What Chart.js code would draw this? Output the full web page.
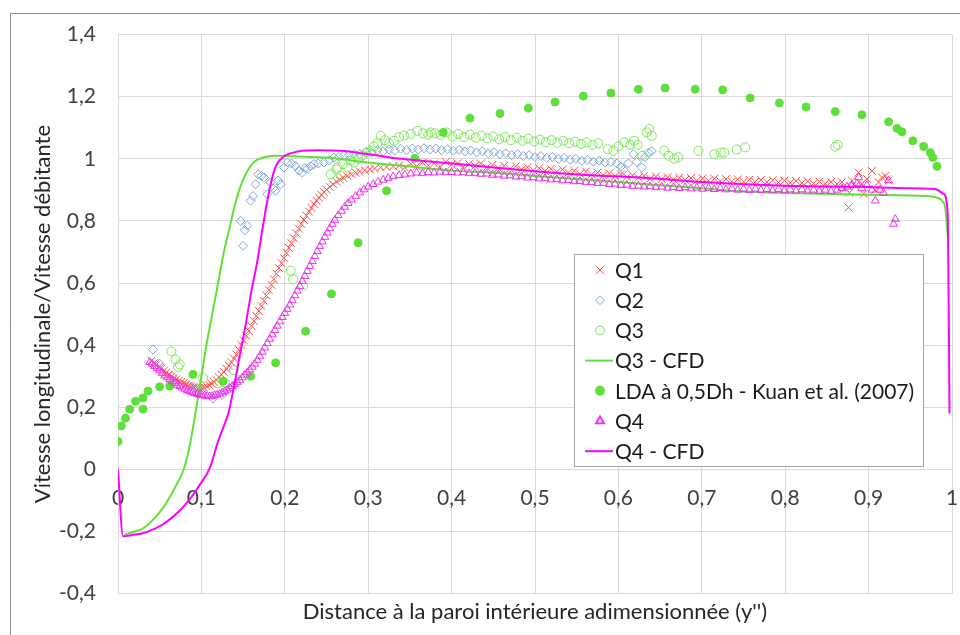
<!DOCTYPE html>
<html>
<head>
<meta charset="utf-8">
<script src="https://cdn.jsdelivr.net/npm/chart.js@4.4.0/dist/chart.umd.min.js"></script>
<style>
  html, body { margin: 0; padding: 0; background: #fff; }
  #wrap { width: 960px; height: 635px; }
</style>
</head>
<body>
<div id="wrap"><canvas id="chart" width="960" height="635"></canvas></div>
<script>
// tick labels
const xTicks = [0, 0.1, 0.2, 0.3, 0.4, 0.5, 0.6, 0.7, 0.8, 0.9, 1];
const yTicks = [-0.4, -0.2, 0, 0.2, 0.4, 0.6, 0.8, 1, 1.2, 1.4];

// series, [x, y] pairs
const q1 = [
  [0.040,0.350],[0.043,0.342],[0.046,0.338],[0.049,0.330],[0.052,0.325],[0.055,0.318],[0.058,0.312],[0.061,0.306],[0.064,0.300],[0.067,0.295],
  [0.070,0.290],[0.073,0.285],[0.076,0.282],[0.079,0.278],[0.082,0.274],[0.085,0.270],[0.088,0.268],[0.091,0.266],[0.094,0.264],[0.097,0.262],
  [0.100,0.262],[0.103,0.264],[0.106,0.268],[0.109,0.272],[0.112,0.276],[0.115,0.282],[0.118,0.288],[0.121,0.296],[0.124,0.305],[0.127,0.314],
  [0.130,0.324],[0.133,0.334],[0.136,0.345],[0.139,0.357],[0.142,0.370],[0.145,0.385],[0.148,0.400],[0.151,0.415],[0.154,0.430],[0.157,0.446],
  [0.160,0.462],[0.163,0.478],[0.166,0.494],[0.169,0.510],[0.172,0.526],[0.175,0.543],[0.178,0.560],[0.181,0.577],[0.184,0.594],[0.187,0.612],
  [0.190,0.630],[0.193,0.648],[0.196,0.664],[0.199,0.680],[0.202,0.697],[0.205,0.713],[0.208,0.728],[0.211,0.744],[0.214,0.760],[0.217,0.775],
  [0.220,0.790],[0.223,0.803],[0.226,0.817],[0.229,0.830],[0.232,0.842],[0.235,0.854],[0.238,0.865],[0.241,0.875],[0.244,0.884],[0.247,0.893],
  [0.250,0.901],[0.254,0.910],[0.258,0.918],[0.262,0.926],[0.266,0.933],[0.270,0.939],[0.275,0.945],[0.280,0.950],[0.285,0.955],[0.290,0.959],
  [0.296,0.963],[0.302,0.966],[0.308,0.969],[0.315,0.972],[0.322,0.974],[0.330,0.976],
  [0.337,0.978],[0.344,0.972],[0.351,0.984],[0.358,0.976],[0.365,0.988],[0.372,0.979],[0.379,0.985],[0.386,0.975],[0.393,0.990],[0.400,0.981],
  [0.407,0.986],[0.414,0.974],[0.421,0.983],[0.428,0.977],[0.435,0.985],[0.442,0.972],[0.449,0.980],[0.456,0.970],[0.463,0.978],[0.470,0.968],
  [0.477,0.976],[0.484,0.966],[0.491,0.973],[0.498,0.963],[0.505,0.970],[0.512,0.961],[0.519,0.968],[0.526,0.958],[0.533,0.965],[0.540,0.955],
  [0.547,0.962],[0.554,0.952],[0.561,0.959],[0.568,0.950],[0.575,0.956],[0.582,0.947],[0.589,0.953],[0.596,0.944],[0.603,0.950],[0.610,0.941],
  [0.617,0.947],[0.624,0.939],[0.631,0.945],[0.638,0.936],[0.645,0.943],[0.652,0.935],[0.659,0.941],[0.666,0.933],[0.673,0.939],[0.680,0.932],
  [0.687,0.938],[0.694,0.930],[0.701,0.937],[0.708,0.929],[0.715,0.936],[0.722,0.928],[0.729,0.935],[0.736,0.927],[0.743,0.934],[0.750,0.926],
  [0.757,0.933],[0.764,0.926],[0.771,0.932],[0.778,0.925],[0.785,0.931],[0.792,0.924],[0.799,0.930],[0.806,0.923],[0.813,0.929],[0.820,0.922],
  [0.827,0.928],[0.834,0.921],[0.841,0.927],[0.848,0.920],[0.855,0.926],[0.862,0.919],
  [0.868,0.925],[0.872,0.905],[0.876,0.843],[0.877,0.891],[0.880,0.930],[0.884,0.912],[0.888,0.956],[0.892,0.920],[0.894,0.887],[0.898,0.935],
  [0.904,0.961],[0.908,0.900],[0.912,0.925],[0.916,0.940],[0.920,0.945],[0.924,0.930]
];

const q2 = [
  [0.042,0.386],[0.050,0.340],[0.065,0.300],[0.085,0.270],[0.100,0.255],[0.114,0.228],[0.125,0.240],
  [0.147,0.800],[0.150,0.720],[0.152,0.770],[0.155,0.785],[0.159,0.865],[0.162,0.880],[0.165,0.918],[0.168,0.950],[0.172,0.945],
  [0.175,0.940],[0.179,0.886],[0.183,0.924],[0.186,0.905],[0.189,0.897],[0.192,0.930],[0.195,0.918],[0.199,0.972],[0.203,0.988],
  [0.208,0.985],[0.213,0.977],[0.217,0.962],[0.221,0.956],[0.224,0.970],[0.227,0.968],[0.231,0.976],[0.235,0.983],[0.240,0.985],
  [0.247,0.988],[0.253,0.995],[0.259,1.004],[0.265,1.006],[0.271,1.010],[0.277,1.012],[0.283,1.016],
  [0.290,1.016],[0.297,1.022],[0.304,1.020],[0.311,1.028],[0.318,1.024],[0.325,1.030],[0.332,1.026],[0.339,1.032],[0.346,1.028],[0.353,1.033],
  [0.360,1.030],[0.367,1.034],[0.374,1.030],[0.381,1.033],[0.388,1.028],[0.395,1.031],[0.402,1.026],[0.409,1.029],[0.416,1.024],[0.423,1.027],
  [0.430,1.021],[0.437,1.024],[0.444,1.018],[0.451,1.021],[0.458,1.015],[0.465,1.018],[0.472,1.012],[0.479,1.015],[0.486,1.009],[0.493,1.012],
  [0.500,1.006],[0.507,1.009],[0.514,1.003],[0.521,1.006],[0.528,1.000],[0.535,1.003],[0.542,0.997],[0.549,1.000],[0.556,0.994],[0.563,0.997],
  [0.570,0.991],[0.577,0.994],[0.584,0.988],[0.591,0.990],[0.598,0.985],
  [0.603,0.975],[0.606,0.965],[0.612,0.985],[0.618,1.015],[0.622,0.990],[0.628,0.972],[0.632,1.005],[0.636,1.020],[0.640,1.025]
];

const q3 = [
  [0.064,0.380],[0.069,0.354],[0.072,0.330],[0.074,0.338],[0.102,0.295],[0.120,0.277],[0.128,0.280],[0.139,0.320],
  [0.207,0.640],[0.210,0.612],[0.222,0.592],
  [0.255,0.950],[0.262,0.965],[0.263,0.972],[0.267,0.945],[0.270,0.983],[0.275,0.972],[0.279,0.994],[0.283,0.988],[0.288,1.000],
  [0.293,1.010],[0.298,1.020],[0.303,1.026],[0.307,1.040],[0.311,1.050],[0.315,1.074],[0.320,1.060],[0.325,1.050],[0.331,1.058],
  [0.337,1.070],[0.343,1.075],[0.351,1.080],[0.359,1.090],[0.366,1.082],[0.372,1.078],[0.375,1.085],
  [0.380,1.082],[0.387,1.076],[0.394,1.085],[0.401,1.072],[0.408,1.080],[0.415,1.070],[0.422,1.078],[0.429,1.068],[0.436,1.075],[0.443,1.066],
  [0.450,1.072],[0.457,1.063],[0.464,1.070],[0.471,1.060],[0.478,1.068],[0.485,1.058],[0.492,1.065],[0.499,1.056],[0.506,1.062],[0.513,1.054],
  [0.520,1.060],[0.527,1.052],[0.534,1.058],[0.541,1.050],[0.548,1.055],[0.555,1.048],[0.562,1.053],[0.569,1.045],[0.576,1.050],
  [0.587,1.031],[0.594,1.026],[0.600,1.040],[0.607,1.053],[0.614,1.045],[0.619,1.058],[0.623,1.045],[0.629,1.010],[0.634,1.085],[0.637,1.096],
  [0.640,1.074],[0.655,1.026],[0.660,1.010],[0.667,1.000],[0.672,1.005],[0.696,1.026],[0.715,1.015],[0.723,1.020],[0.727,1.020],[0.742,1.030],
  [0.752,1.037],[0.860,1.039],[0.863,1.045]
];

const q3Cfd = [
  [0.008,-0.210],[0.020,-0.200],[0.030,-0.190],[0.044,-0.157],[0.055,-0.120],[0.064,-0.080],[0.072,-0.040],[0.078,-0.006],[0.083,0.040],
  [0.087,0.090],[0.094,0.200],[0.100,0.300],[0.106,0.400],[0.113,0.500],[0.120,0.600],[0.127,0.700],[0.134,0.780],[0.141,0.860],
  [0.148,0.920],[0.155,0.960],[0.163,0.990],[0.175,1.005],[0.190,1.010],[0.210,1.008],[0.250,1.004],[0.300,0.988],[0.350,0.975],
  [0.400,0.962],[0.450,0.955],[0.500,0.945],[0.600,0.925],[0.700,0.905],[0.750,0.895],[0.800,0.890],[0.900,0.884],[0.970,0.880],
  [0.982,0.875],[0.988,0.865],[0.992,0.840],[0.995,0.750]
];

const lda = [
  [0.000,0.090],[0.004,0.140],[0.009,0.165],[0.014,0.194],[0.021,0.219],[0.030,0.194],[0.030,0.230],[0.036,0.252],[0.050,0.266],[0.062,0.268],
  [0.090,0.306],[0.126,0.284],[0.159,0.300],[0.189,0.343],[0.225,0.445],[0.256,0.565],[0.288,0.730],[0.322,0.897],[0.356,1.002],[0.390,1.085],
  [0.422,1.131],[0.458,1.146],[0.492,1.163],[0.524,1.183],[0.558,1.202],[0.591,1.212],[0.624,1.224],[0.656,1.228],[0.692,1.224],[0.725,1.222],
  [0.758,1.196],[0.793,1.180],[0.825,1.167],[0.860,1.152],[0.892,1.142],[0.924,1.119],[0.934,1.098],[0.940,1.087],[0.953,1.058],[0.966,1.040],
  [0.974,1.020],[0.977,1.004],[0.982,0.976]
];

const q4 = [
  [0.038,0.345],[0.041,0.340],[0.044,0.332],[0.047,0.325],[0.050,0.318],[0.053,0.310],[0.056,0.302],[0.059,0.296],[0.062,0.290],[0.065,0.284],
  [0.068,0.278],[0.071,0.272],[0.074,0.268],[0.077,0.263],[0.080,0.259],[0.083,0.255],[0.086,0.251],[0.089,0.248],[0.092,0.245],[0.095,0.242],
  [0.098,0.240],[0.101,0.238],[0.104,0.237],[0.107,0.236],[0.110,0.235],[0.113,0.236],[0.116,0.238],[0.119,0.240],[0.122,0.243],[0.125,0.247],
  [0.128,0.251],[0.131,0.256],[0.134,0.262],[0.137,0.268],[0.140,0.274],[0.143,0.281],[0.146,0.288],[0.149,0.296],[0.152,0.304],[0.155,0.312],
  [0.158,0.321],[0.161,0.330],[0.164,0.340],[0.167,0.352],[0.170,0.365],[0.173,0.378],[0.176,0.392],[0.179,0.406],[0.182,0.420],[0.185,0.434],
  [0.188,0.448],[0.191,0.462],[0.194,0.476],[0.197,0.490],[0.200,0.503],[0.203,0.516],[0.206,0.530],[0.209,0.545],[0.212,0.560],[0.215,0.575],
  [0.218,0.590],[0.221,0.606],[0.224,0.622],[0.227,0.638],[0.230,0.654],[0.233,0.670],[0.236,0.686],[0.239,0.702],[0.242,0.718],[0.245,0.733],
  [0.248,0.748],[0.251,0.762],[0.254,0.776],[0.257,0.790],[0.260,0.803],[0.264,0.818],[0.268,0.832],[0.272,0.845],[0.276,0.857],[0.280,0.868],
  [0.285,0.880],[0.290,0.891],[0.295,0.901],[0.300,0.910],[0.306,0.918],[0.312,0.926],[0.318,0.932],[0.324,0.938],[0.330,0.943],[0.337,0.947],
  [0.344,0.949],[0.351,0.952],[0.358,0.955],[0.365,0.953],[0.372,0.957],[0.379,0.955],[0.386,0.958],[0.393,0.956],[0.400,0.957],[0.407,0.955],
  [0.414,0.956],[0.421,0.953],[0.428,0.954],[0.435,0.951],[0.442,0.952],[0.449,0.948],[0.456,0.949],[0.463,0.945],[0.470,0.946],[0.477,0.942],
  [0.484,0.943],[0.491,0.939],[0.498,0.940],[0.505,0.936],[0.512,0.937],[0.519,0.933],[0.526,0.934],[0.533,0.930],[0.540,0.931],[0.547,0.927],
  [0.554,0.928],[0.561,0.924],[0.568,0.925],[0.575,0.921],[0.582,0.922],[0.589,0.918],[0.596,0.919],[0.603,0.915],[0.610,0.916],[0.617,0.912],
  [0.624,0.913],[0.631,0.910],[0.638,0.911],[0.645,0.908],[0.652,0.910],[0.659,0.906],[0.666,0.909],[0.673,0.905],[0.680,0.908],[0.687,0.904],
  [0.694,0.907],[0.701,0.903],[0.708,0.906],[0.715,0.902],[0.722,0.905],[0.729,0.901],[0.736,0.904],[0.743,0.900],[0.750,0.903],[0.757,0.899],
  [0.764,0.903],[0.771,0.899],[0.778,0.902],[0.785,0.898],[0.792,0.902],[0.799,0.898],[0.806,0.901],[0.813,0.897],[0.820,0.901],[0.827,0.897],
  [0.834,0.900],[0.841,0.896],[0.848,0.900],[0.855,0.896],[0.862,0.900],
  [0.868,0.905],[0.874,0.910],[0.880,0.915],[0.886,0.920],[0.888,0.940],[0.892,0.905],[0.898,0.915],[0.904,0.900],[0.908,0.865],[0.914,0.900],
  [0.918,0.890],[0.924,0.930],[0.930,0.790],[0.932,0.806]
];

const q4Cfd = [
  [0.000,0.000],[0.006,-0.215],[0.020,-0.210],[0.031,-0.205],[0.045,-0.190],[0.055,-0.175],[0.064,-0.157],[0.075,-0.130],[0.087,-0.093],
  [0.098,-0.050],[0.110,0.004],[0.120,0.090],[0.127,0.140],[0.133,0.187],[0.140,0.280],[0.147,0.380],[0.154,0.480],[0.160,0.575],
  [0.167,0.670],[0.173,0.770],[0.179,0.865],[0.185,0.940],[0.190,0.980],[0.200,1.010],[0.210,1.020],[0.220,1.026],[0.240,1.028],
  [0.267,1.026],[0.300,1.015],[0.340,1.000],[0.380,0.990],[0.420,0.980],[0.500,0.960],[0.560,0.948],[0.627,0.940],[0.700,0.925],
  [0.800,0.913],[0.888,0.910],[0.950,0.905],[0.980,0.903],[0.990,0.887],[0.995,0.820],[0.997,0.180]
];

const seriesNames = ['Q1', 'Q2', 'Q3', 'Q3 - CFD', 'LDA à 0,5Dh - Kuan et al. (2007)', 'Q4', 'Q4 - CFD'];
const seriesColors = ['#ff4d4d', '#7fa7d9', '#7be85a', '#62e03a', '#5ee03a', '#ee33ee', '#ff00ff'];

const toXY = (pts) => pts.map(p => ({ x: p[0], y: p[1] }));
const fmt = (v) => String(Math.round(v * 10) / 10).replace('.', ',');

const FONT = 'Lato';

// frame of the chart object + custom legend box
const decorPlugin = {
    id: 'decor',
    beforeDraw(chart) {
        const ctx = chart.ctx;
        ctx.save();
        ctx.fillStyle = '#ffffff';
        ctx.fillRect(0, 0, chart.width, chart.height);
        ctx.strokeStyle = '#8c8c8c';
        ctx.lineWidth = 1;
        ctx.beginPath();
        ctx.moveTo(10.5, chart.height);
        ctx.lineTo(10.5, 13.5);
        ctx.lineTo(chart.width, 13.5);
        ctx.stroke();
        ctx.restore();
    },
    afterDraw(chart) {
        const ctx = chart.ctx;
        const box = { x: 574.5, y: 254.5, w: 349, h: 212 };
        ctx.save();
        ctx.fillStyle = '#ffffff';
        ctx.strokeStyle = '#a6a6a6';
        ctx.lineWidth = 1;
        ctx.fillRect(box.x, box.y, box.w, box.h);
        ctx.strokeRect(box.x, box.y, box.w, box.h);

        const styles = chart.data.datasets;
        seriesNames.forEach((name, i) => {
            const ds = styles[i];
            const cy = 270 + i * 30.2;
            const cx = 600;
            if (ds.showLine) {
                ctx.strokeStyle = ds.borderColor;
                ctx.lineWidth = ds.borderWidth;
                ctx.beginPath();
                ctx.moveTo(585, cy);
                ctx.lineTo(613, cy);
                ctx.stroke();
            } else {
                ctx.strokeStyle = ds.pointBorderColor;
                ctx.fillStyle = ds.pointBackgroundColor;
                Chart.helpers.drawPoint(ctx, {
                    pointStyle: ds.pointStyle,
                    radius: ds.pointRadius,
                    borderWidth: ds.pointBorderWidth,
                    rotation: 0
                }, cx, cy);
            }
            ctx.fillStyle = '#1a1a1a';
            ctx.font = '21px ' + FONT;
            ctx.textBaseline = 'middle';
            ctx.textAlign = 'left';
            ctx.fillText(name, 615, cy + 1);
        });
        ctx.restore();
    }
};

document.addEventListener('DOMContentLoaded', () => {
    const scatterSet = (i, pts, style, radius, filled, order) => ({
        label: seriesNames[i],
        data: toXY(pts),
        showLine: false,
        pointStyle: style,
        pointRadius: radius,
        pointHoverRadius: radius,
        pointBorderWidth: 1,
        pointBorderColor: seriesColors[i],
        pointBackgroundColor: filled ? seriesColors[i] : 'rgba(0,0,0,0)',
        order: order
    });
    const lineSet = (i, pts, order) => ({
        label: seriesNames[i],
        data: toXY(pts),
        showLine: true,
        borderColor: seriesColors[i],
        borderWidth: 2,
        pointRadius: 0,
        cubicInterpolationMode: 'monotone',
        order: order
    });

    const data = {
        datasets: [
            scatterSet(0, q1, 'crossRot', 5.5, false, 7),
            scatterSet(1, q2, 'rectRot', 4.5, false, 6),
            scatterSet(2, q3, 'circle', 4.5, false, 5),
            lineSet(3, q3Cfd, 4),
            scatterSet(4, lda, 'circle', 4, true, 3),
            scatterSet(5, q4, 'triangle', 4.5, false, 2),
            lineSet(6, q4Cfd, 1)
        ]
    };

    const config = {
        type: 'scatter',
        data: data,
        options: {
            responsive: false,
            animation: false,
            layout: {
                padding: { top: 34, right: 8, left: 0, bottom: 0 }
            },
            plugins: {
                legend: { display: false },
                tooltip: { enabled: false },
                title: {
                    display: true,
                    position: 'bottom',
                    fullSize: false,
                    text: "Distance à la paroi intérieure adimensionnée (y'')",
                    color: '#262626',
                    font: { family: FONT, size: 22, weight: 'normal' },
                    padding: { top: 5, bottom: 10 }
                }
            },
            scales: {
                x: {
                    type: 'linear',
                    position: { y: 0 },
                    min: 0,
                    max: 1,
                    afterBuildTicks: (scale) => { scale.ticks = xTicks.map(v => ({ value: v })); },
                    afterFit: (scale) => { scale.paddingLeft = 0; scale.paddingRight = 0; },
                    grid: { color: '#d9d9d9', drawTicks: false },
                    border: { color: '#d9d9d9' },
                    ticks: {
                        padding: 16,
                        color: '#404040',
                        font: { family: FONT, size: 21 },
                        maxRotation: 0,
                        callback: (v) => fmt(v)
                    }
                },
                y: {
                    type: 'linear',
                    position: 'left',
                    min: -0.4,
                    max: 1.4,
                    afterBuildTicks: (scale) => { scale.ticks = yTicks.map(v => ({ value: v })); },
                    afterFit: (scale) => { scale.width = 118; },
                    grid: { color: '#d9d9d9', drawTicks: false },
                    border: { color: '#d9d9d9' },
                    ticks: {
                        padding: 22,
                        color: '#404040',
                        font: { family: FONT, size: 21 },
                        callback: (v) => fmt(v)
                    },
                    title: {
                        display: true,
                        text: 'Vitesse longitudinale/Vitesse débitante',
                        color: '#262626',
                        font: { family: FONT, size: 22, weight: 'normal' },
                        padding: { top: 30, bottom: 0 }
                    }
                }
            }
        },
        plugins: [decorPlugin]
    };

    const ctx = document.getElementById('chart').getContext('2d');
    new Chart(ctx, config);
});
</script>
</body>
</html>
